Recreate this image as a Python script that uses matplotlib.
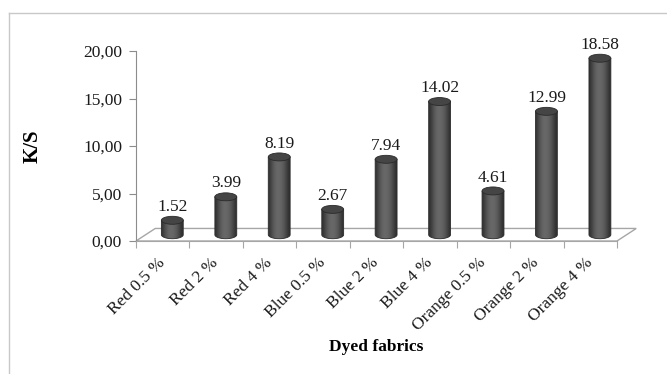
import numpy as np
import matplotlib
matplotlib.use("Agg")
import matplotlib.pyplot as plt
from matplotlib.patches import Ellipse, Polygon, PathPatch
from matplotlib.path import Path
from matplotlib.lines import Line2D

# data
categories = ["Red 0.5 %", "Red 2 %", "Red 4 %", "Blue 0.5 %", "Blue 2 %",
              "Blue 4 %", "Orange 0.5 %", "Orange 2 %", "Orange 4 %"]
ks_values = [1.52, 3.99, 8.19, 2.67, 7.94, 14.02, 4.61, 12.99, 18.58]
y_ticks = [0, 5, 10, 15, 20]
y_tick_labels = ["0,00", "5,00", "10,00", "15,00", "20,00"]

plt.rcParams['font.family'] = ['Liberation Serif', 'DejaVu Serif']

W, H = 667, 374
fig = plt.figure(figsize=(W / 100, H / 100), dpi=100)
ax = fig.add_axes([136 / W, (H - 241) / H, 481 / W, 190 / H])

n = len(categories)

# 3d floor
depth_x = 0.36
depth_y = 1.32
floor = Polygon([(0, 0), (n, 0), (n + depth_x, depth_y), (depth_x, depth_y)],
                closed=True, facecolor="none", edgecolor="#a6a6a6", lw=1.0,
                clip_on=False, zorder=1)
ax.add_patch(floor)

# cylinders
half_w = 0.205
ell_h = 0.42
base = depth_y / 2
grad = np.array([0.2, 0.26, 0.32, 0.37, 0.40, 0.41, 0.40, 0.38, 0.35, 0.30, 0.24, 0.19])
grad_img = np.tile(grad, (2, 1))
t = np.linspace(np.pi, 2 * np.pi, 40)

for i, v in enumerate(ks_values):
    cx = i + 0.5 + depth_x / 2
    top = base + v
    # body outline: straight sides, rounded bottom
    xs = list(cx + half_w * np.cos(t))
    ys = list(base + ell_h * np.sin(t))
    verts = [(cx - half_w, top)] + list(zip(xs, ys)) + [(cx + half_w, top), (cx - half_w, top)]
    clip = PathPatch(Path(verts), facecolor="none", edgecolor="#2a2a2a", lw=0.6, zorder=3)
    ax.add_patch(clip)
    im = ax.imshow(grad_img, cmap="gray", vmin=0, vmax=1, aspect="auto",
                   extent=[cx - half_w, cx + half_w, base - ell_h, top],
                   interpolation="bicubic", zorder=2)
    im.set_clip_path(clip)
    cap = Ellipse((cx, top), 2 * half_w, 2 * ell_h, facecolor="#454545",
                  edgecolor="#2a2a2a", lw=0.6, zorder=4)
    ax.add_patch(cap)
    ax.annotate(f"{v:.2f}", (cx, top + ell_h), xytext=(0, 1), textcoords="offset points",
                ha="center", va="bottom", fontsize=12.5, color="#1a1a1a")

ax.set_aspect("auto")
ax.set_xlim(0, n)
ax.set_ylim(0, 20)

# axes styling
for s in ["top", "right"]:
    ax.spines[s].set_visible(False)
ax.spines["left"].set_color("#8c8c8c")
ax.spines["bottom"].set_color("#a6a6a6")

ax.set_yticks(y_ticks)
ax.set_yticklabels(y_tick_labels, fontsize=12.5, color="#1a1a1a")
ax.tick_params(axis="y", length=5, color="#8c8c8c", pad=5)

ax.set_xticks(np.arange(n + 1))
ax.set_xticklabels([])
ax.tick_params(axis="x", which="major", length=5, color="#a6a6a6")
ax.set_xticks(np.arange(n) + 0.5, minor=True)
ax.set_xticklabels(categories, minor=True, rotation=45, ha="right",
                   rotation_mode="anchor", va="center", fontsize=12.5, color="#1a1a1a")
ax.tick_params(axis="x", which="minor", length=0, pad=14)

ax.set_ylabel("K/S", fontsize=15, fontweight="bold")
ax.yaxis.set_label_coords((43 - 136) / 481, 0.5)
fig.text(376 / W, 1 - 347 / H, "Dyed fabrics", ha="center", va="center",
         fontsize=12.5, fontweight="bold")

# outer frame (top and left edges visible)
fig.add_artist(Line2D([9 / W, 1], [1 - 13 / H, 1 - 13 / H], color="#c8c8c8", lw=1))
fig.add_artist(Line2D([9 / W, 9 / W], [1 - 13 / H, 0], color="#c8c8c8", lw=1))

fig.savefig("out.png", dpi=100)
